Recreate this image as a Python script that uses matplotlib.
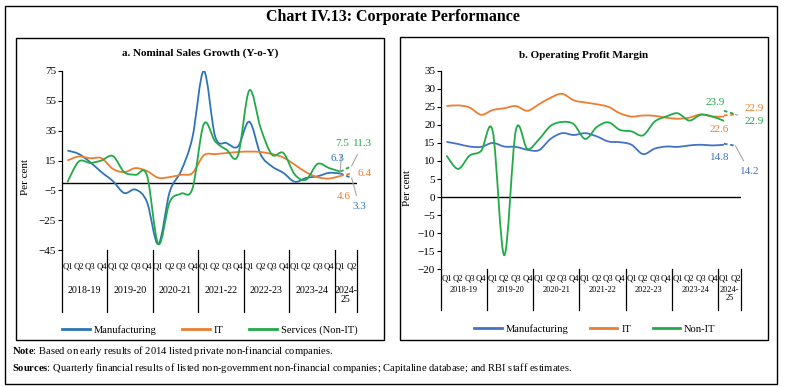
import matplotlib
matplotlib.use("Agg")
import matplotlib.pyplot as plt
from matplotlib.path import Path
from matplotlib.patches import PathPatch, Rectangle
from matplotlib.lines import Line2D
import matplotlib.transforms as mtransforms

plt.rcParams['font.family'] = ['Liberation Serif', 'DejaVu Serif']
plt.rcParams['mathtext.fontset'] = 'custom'
plt.rcParams['mathtext.bf'] = 'Liberation Serif:bold'
plt.rcParams['mathtext.rm'] = 'Liberation Serif'

# quarters Q1 2018-19 .. Q2 2024-25
quarters = ['Q1', 'Q2', 'Q3', 'Q4'] * 6 + ['Q1', 'Q2']
years = ['2018-19', '2019-20', '2020-21', '2021-22', '2022-23', '2023-24', '2024-\n25']

# a. Nominal sales growth (Y-o-Y), Q1 2018-19 .. Q1 2024-25
mfg_sales = [21.7, 19.4, 13.9, 7.2, 1.2, -6.8, -4.5, -12.8, -41.0, -6.0, 8.0, 30.5, 75.0,
             31.0, 26.7, 24.4, 41.0, 19.0, 11.0, 6.7, 0.7, 3.3, 4.4, 6.7, 6.3]
it_sales = [15.0, 17.7, 16.5, 16.5, 9.4, 7.2, 9.9, 7.9, 3.4, 3.9, 5.4, 6.6, 18.5,
            19.3, 20.0, 20.7, 21.0, 20.7, 19.3, 17.0, 12.2, 7.1, 3.8, 2.9, 4.6]
svc_sales = [0.5, 14.3, 13.4, 15.0, 18.0, 7.2, 5.4, 5.0, -41.0, -12.8, -7.2, -3.9, 39.4,
             27.8, 22.2, 18.4, 62.0, 36.7, 18.9, 20.0, 5.6, 2.2, 12.7, 10.0, 7.5]
# early results sample: Q1 and Q2 2024-25
mfg_sales_new = [6.3, 3.3]
it_sales_new = [4.6, 6.4]
svc_sales_new = [7.5, 11.3]

# b. Operating profit margin, Q1 2018-19 .. Q1 2024-25
mfg_opm = [15.3, 14.7, 14.0, 13.9, 15.0, 14.0, 13.9, 13.1, 13.0, 16.1, 17.7, 17.2, 17.7,
           16.8, 15.4, 15.2, 14.5, 11.9, 13.4, 14.0, 13.9, 14.3, 14.5, 14.3, 14.5]
it_opm = [25.2, 25.4, 24.8, 22.8, 24.1, 24.6, 25.2, 23.9, 25.7, 27.5, 28.6, 26.8, 26.2,
          25.7, 25.0, 23.2, 22.3, 22.6, 22.5, 22.0, 21.7, 22.0, 22.9, 22.3, 22.3]
nonit_opm = [11.5, 7.8, 11.5, 12.8, 18.2, -16.1, 18.5, 13.3, 16.0, 19.7, 20.8, 20.2, 16.1,
             19.4, 20.7, 18.6, 18.2, 17.1, 20.9, 22.3, 23.2, 21.2, 22.8, 22.3, 21.1]
mfg_opm_new = [14.8, 14.2]
it_opm_new = [22.6, 22.9]
nonit_opm_new = [23.9, 22.9]

BLUE_A = '#2E75B6'
BLUE_B = '#4472C4'
ORANGE = '#ED7D31'
GREEN = '#21AA47'
GREY = '#A6A6A6'

W, H = 786, 387
fig = plt.figure(figsize=(W / 100, H / 100), dpi=100)


def fx(px):
    return px / W


def fy(py):
    return 1 - py / H


def smooth_line(ax, y, color, x0=0, **kw):
    # excel style smoothed line (bezier through the points)
    x = list(range(x0, x0 + len(y)))
    n = len(y)
    verts = [(x[0], y[0])]
    codes = [Path.MOVETO]
    for i in range(n - 1):
        a = i - 1 if i > 0 else i
        b = i + 2 if i + 2 < n else i + 1
        c1 = (x[i] + (x[i + 1] - x[a]) / 6, y[i] + (y[i + 1] - y[a]) / 6)
        c2 = (x[i + 1] - (x[b] - x[i]) / 6, y[i + 1] - (y[b] - y[i]) / 6)
        verts += [c1, c2, (x[i + 1], y[i + 1])]
        codes += [Path.CURVE4] * 3
    ax.add_patch(PathPatch(Path(verts, codes), fill=False, edgecolor=color, lw=1.3, **kw))


def setup_axis(ax, ylim, yticks, qpad, year_y, sep_len, year_size, ylab_xy):
    ax.set_xlim(-0.5, len(quarters) - 0.5)
    ax.set_ylim(*ylim)
    ax.set_yticks(yticks)
    ax.set_xticks(range(len(quarters)))
    ax.set_xticklabels(quarters, fontsize=6.2)
    ax.tick_params(axis='x', length=0, pad=qpad)
    ax.tick_params(axis='y', labelsize=8, length=3, width=0.8, pad=1)
    for s in ['top', 'right', 'bottom']:
        ax.spines[s].set_visible(False)
    ax.spines['left'].set_linewidth(0.9)
    ax.axhline(0, color='black', lw=1.0, zorder=1)
    trans = mtransforms.blended_transform_factory(ax.transData, ax.transAxes)
    seps = [-0.5, 3.5, 7.5, 11.5, 15.5, 19.5, 23.5, 25.5]
    for s in seps:
        ax.plot([s, s], [0, -sep_len], color='black', lw=0.9, transform=trans, clip_on=False)
    for k, yr in enumerate(years):
        xc = (seps[k] + seps[k + 1]) / 2
        ax.text(xc, year_y, yr, transform=trans, ha='center', va='top', fontsize=year_size,
                linespacing=1.0)
    ax.set_ylabel('Per cent', fontsize=8)
    ax.yaxis.set_label_coords(*ylab_xy)


# ---------- panel a ----------
ax1 = fig.add_axes([fx(61.7), fy(250), fx(357.3) - fx(61.7), fy(71) - fy(250)])
setup_axis(ax1, (-45, 75), range(-45, 76, 20), 9, -0.2, 0.346, 7.2, (-0.107, 0.41))
smooth_line(ax1, mfg_sales, BLUE_A)
smooth_line(ax1, it_sales, ORANGE)
smooth_line(ax1, svc_sales, GREEN)
smooth_line(ax1, mfg_sales_new, BLUE_A, x0=24, linestyle=(0, (2, 1.5)))
smooth_line(ax1, it_sales_new, ORANGE, x0=24, linestyle=(0, (2, 1.5)))
smooth_line(ax1, svc_sales_new, GREEN, x0=24, linestyle=(0, (2, 1.5)))

lab = dict(fontsize=8, ha='center', va='center')
arr = dict(arrowstyle='-', color=GREY, lw=0.8, shrinkA=3, shrinkB=0)
ax1.annotate('7.5', xy=(24, svc_sales_new[0]), xytext=(24.15, 26.5), color=GREEN, arrowprops=arr, **lab)
ax1.annotate('11.3', xy=(25, svc_sales_new[1]), xytext=(26.0, 26.5), color=GREEN, arrowprops=arr, **lab)
ax1.annotate('6.3', xy=(24, mfg_sales_new[0]), xytext=(23.75, 16.3), color=BLUE_A, **lab)
ax1.annotate('6.4', xy=(25, it_sales_new[1]), xytext=(26.1, 6.2), color=ORANGE, **lab)
ax1.annotate('4.6', xy=(24, it_sales_new[0]), xytext=(24.3, -9.3), color=ORANGE, **lab)
ax1.annotate('3.3', xy=(25, mfg_sales_new[1]), xytext=(25.7, -16.0), color=BLUE_A, arrowprops=arr, **lab)

# ---------- panel b ----------
ax2 = fig.add_axes([fx(440.7), fy(269.3), fx(741.3) - fx(440.7), fy(70.7) - fy(269.3)])
setup_axis(ax2, (-20, 35), range(-20, 36, 5), 4, -0.085, 0.206, 6.0, (-0.095, 0.41))
smooth_line(ax2, mfg_opm, BLUE_B)
smooth_line(ax2, it_opm, ORANGE)
smooth_line(ax2, nonit_opm, GREEN)
smooth_line(ax2, mfg_opm_new, BLUE_B, x0=24, linestyle=(0, (2, 1.5)))
smooth_line(ax2, it_opm_new, ORANGE, x0=24, linestyle=(0, (2, 1.5)))
smooth_line(ax2, nonit_opm_new, GREEN, x0=24, linestyle=(0, (2, 1.5)))

ax2.annotate('23.9', xy=(24, nonit_opm_new[0]), xytext=(23.2, 26.3), color=GREEN, **lab)
ax2.annotate('22.9', xy=(25, it_opm_new[1]), xytext=(26.6, 24.6), color=ORANGE, **lab)
ax2.annotate('22.9', xy=(25, nonit_opm_new[1]), xytext=(26.6, 20.8), color=GREEN, arrowprops=arr, **lab)
ax2.annotate('22.6', xy=(24, it_opm_new[0]), xytext=(23.6, 18.6), color=ORANGE, **lab)
ax2.annotate('14.8', xy=(24, mfg_opm_new[0]), xytext=(23.6, 10.9), color=BLUE_B, **lab)
ax2.annotate('14.2', xy=(25, mfg_opm_new[1]), xytext=(26.2, 7.0), color=BLUE_B, arrowprops=arr, **lab)

# ---------- legends ----------
h_a = [Line2D([], [], color=c, lw=2) for c in (BLUE_A, ORANGE, GREEN)]
fig.legend(h_a, ['Manufacturing', 'IT', 'Services (Non-IT)'], loc='center', ncol=3,
           bbox_to_anchor=(fx(210), fy(330)), frameon=False, fontsize=7.6,
           handlelength=2.6, columnspacing=2.4, handletextpad=0.4)
h_b = [Line2D([], [], color=c, lw=2) for c in (BLUE_B, ORANGE, GREEN)]
fig.legend(h_b, ['Manufacturing', 'IT', 'Non-IT'], loc='center', ncol=3,
           bbox_to_anchor=(fx(595), fy(329)), frameon=False, fontsize=7.6,
           handlelength=2.6, columnspacing=2.0, handletextpad=0.4)

# ---------- titles, frames, notes ----------
fig.text(0.5, fy(17), 'Chart IV.13: Corporate Performance', ha='center', va='center',
         fontsize=11.5, fontweight='bold')
fig.text(fx(200), fy(53), 'a. Nominal Sales Growth (Y-o-Y)', ha='center', va='center',
         fontsize=8, fontweight='bold')
fig.text(fx(584), fy(56), 'b. Operating Profit Margin', ha='center', va='center',
         fontsize=8, fontweight='bold')

for (x0, y0, x1, y1) in [(5, 6, 777, 384), (16, 38, 384, 340), (400, 37, 768, 340)]:
    fig.add_artist(Rectangle((fx(x0), fy(y1)), fx(x1) - fx(x0), fy(y0) - fy(y1),
                             transform=fig.transFigure, fill=False, edgecolor='black', lw=1.0))

fig.text(fx(12), fy(351), r'$\mathbf{Note}$: Based on early results of 2014 listed private non-financial companies.',
         ha='left', va='center', fontsize=7.6)
fig.text(fx(12), fy(368), r'$\mathbf{Sources}$: Quarterly financial results of listed non-government non-financial companies; '
         'Capitaline database; and RBI staff estimates.', ha='left', va='center', fontsize=7.6)

fig.savefig('out.png', dpi=100)
